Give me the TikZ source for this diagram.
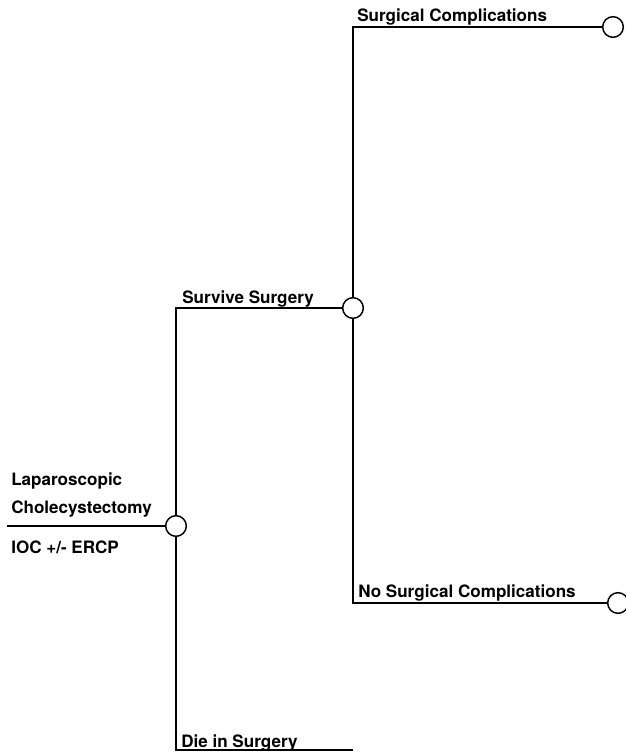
\documentclass[tikz,border=0pt]{standalone}
\usepackage{fontspec}
\setmainfont{TeX Gyre Heros}
\begin{document}
\begin{tikzpicture}[x=0.75pt,y=0.75pt,yscale=-1,xscale=1]
\tikzset{chance/.style={circle,draw,fill=white,line width=1.1pt,minimum size=15.5pt,inner sep=0pt},
  branch/.style={line width=1.4pt},
  lbl/.style={anchor=base west,inner sep=0pt,font=\bfseries\fontsize{12.8}{15}\selectfont}}
\useasboundingbox (0,0) rectangle (625,756);
% chance nodes
\node[chance] (root) at (176,526) {};
\node[chance] (survive) at (353,308) {};
\node[chance] (comp) at (613,27) {};
\node[chance] (nocomp) at (618,603) {};
\coordinate (start) at (7,526);
\coordinate (die) at (353,750);
% branches
\draw[branch] (start) -- (root);
\draw[branch] (root) -- (root |- survive) -- (survive);
\draw[branch] (root) -- (root |- die) -- (die);
\draw[branch] (survive) -- (survive |- comp) -- (comp);
\draw[branch] (survive) -- (survive |- nocomp) -- (nocomp);
% labels
\node[lbl] (lap) at (11,485) {Laparoscopic};
\node[lbl] (chol) at (11,513) {Cholecystectomy};
\node[lbl] (ioc) at (11,553) {IOC +/- ERCP};
\node[lbl] (surviveLbl) at (182,303) {Survive Surgery};
\node[lbl] (dieLbl) at (181,747) {Die in Surgery};
\node[lbl] (compLbl) at (357,22) {Surgical Complications};
\node[lbl] (nocompLbl) at (358,597) {No Surgical Complications};
\end{tikzpicture}
\end{document}
